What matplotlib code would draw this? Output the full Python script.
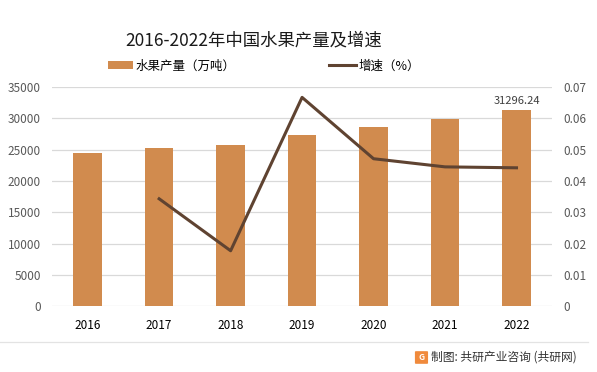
import matplotlib.pyplot as plt
from matplotlib.patches import FancyBboxPatch

plt.rcParams['font.family'] = ['Noto Sans CJK SC', 'DejaVu Sans']

# --- data ---
years = ['2016', '2017', '2018', '2019', '2020', '2021', '2022']
output = [24405.2, 25241.9, 25688.4, 27400.8, 28692.4, 29970.2, 31296.24]
growth_years = ['2017', '2018', '2019', '2020', '2021', '2022']
growth = [0.0343, 0.0177, 0.0667, 0.0471, 0.0445, 0.0442]

bar_color = '#d18b4e'
line_color = '#5f4331'
tick_color = '#595959'

fig = plt.figure(figsize=(5.97, 3.72), dpi=100)
ax = fig.add_axes([0.087, 0.177, 0.838, 0.589])
x = list(range(len(years)))
ax.bar(x, output, width=0.4, color=bar_color, zorder=2, label='水果产量（万吨）')
ax.set_ylim(0, 35000)
ax.set_yticks(range(0, 35001, 5000))
ax.set_xlim(-0.5, len(years) - 0.5)
ax.set_xticks(x)
ax.set_xticklabels(years)
ax.grid(axis='y', color='#d9d9d9', linewidth=0.9, zorder=0)
ax.set_axisbelow(True)
for s in ax.spines.values():
    s.set_visible(False)
ax.tick_params(axis='x', length=0, labelsize=8.5, colors='#000000', pad=9)
ax.tick_params(axis='y', length=0, labelsize=8.5, colors=tick_color, pad=8)

ax.text(x[-1], output[-1] + 700, '31296.24', ha='center', va='bottom',
        fontsize=8, color='#404040')

ax2 = ax.twinx()
gx = [years.index(y) for y in growth_years]
ax2.plot(gx, growth, color=line_color, linewidth=2.2, zorder=3, label='增速（%）')
ax2.set_ylim(0, 0.07)
ax2.set_yticks([0, 0.01, 0.02, 0.03, 0.04, 0.05, 0.06, 0.07])
ax2.set_yticklabels(['0', '0.01', '0.02', '0.03', '0.04', '0.05', '0.06', '0.07'])
for s in ax2.spines.values():
    s.set_visible(False)
ax2.tick_params(length=0, labelsize=8.5, colors=tick_color, pad=8)

fig.text(0.425, 0.89, '2016-2022年中国水果产量及增速', ha='center', va='center',
         fontsize=12.5, color='#1a1a1a')

# legend
h1, l1 = ax.get_legend_handles_labels()
h2, l2 = ax2.get_legend_handles_labels()
fig.legend(h1, l1, loc='center', bbox_to_anchor=(0.287, 0.823), frameon=False,
           fontsize=9, handlelength=2.0, handleheight=0.6, handletextpad=0.2)
fig.legend(h2, l2, loc='center', bbox_to_anchor=(0.627, 0.823), frameon=False,
           fontsize=9, handlelength=2.2, handletextpad=0.2)

# footer
fig.add_artist(plt.Line2D([0.0, 0.985], [0.081, 0.081], color='#e3e3e3', linewidth=0.9,
                          transform=fig.transFigure))
icon = FancyBboxPatch((0.697, 0.024), 0.018, 0.03, boxstyle='round,pad=0.002',
                      facecolor='#f08a3c', edgecolor='none', transform=fig.transFigure)
fig.add_artist(icon)
fig.text(0.706, 0.039, 'G', ha='center', va='center', fontsize=6, color='white',
         fontweight='bold')
fig.text(0.722, 0.039, '制图: 共研产业咨询 (共研网)', ha='left', va='center',
         fontsize=8.5, color='#333333')

fig.savefig('out.png', dpi=100)
